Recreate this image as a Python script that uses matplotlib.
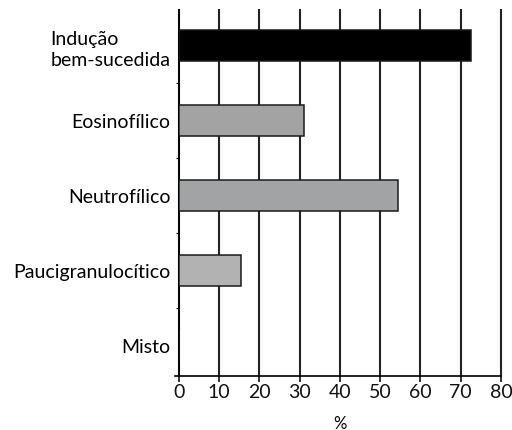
import matplotlib
matplotlib.use("Agg")
import matplotlib.pyplot as plt
import numpy as np

categories = ["Indução\nbem-sucedida", "Eosinofílico", "Neutrofílico",
              "Paucigranulocítico", "Misto"]
values = [72.5, 31, 54.5, 15.5, 0]
bar_colors = ["#000000", "#a3a3a3", "#a2a3a5", "#b1b2b1", "#b1b2b1"]
xticks = [0, 10, 20, 30, 40, 50, 60, 70, 80]

plt.rcParams["font.family"] = ["Lato", "DejaVu Sans"]

fig = plt.figure(figsize=(5.12, 4.31), dpi=100)
ax = fig.add_axes([0.3496, 0.1253, 0.6289, 0.8492])

y = np.arange(len(categories))
ax.barh(y, values, height=0.42, color=bar_colors, edgecolor="#1a1a1a",
        linewidth=1.1, zorder=3)

ax.set_xlim(0, 80)
ax.set_ylim(4.407, -0.473)
ax.set_xticks(xticks)
ax.set_xticklabels([str(t) for t in xticks], fontsize=14)
ax.set_yticks(y)
ax.set_yticklabels(categories, fontsize=14, linespacing=1.3)
for lbl in ax.get_yticklabels():
    lbl.set_multialignment("left")
ax.set_yticks(np.arange(0.5, len(categories) - 1, 1), minor=True)
ax.tick_params(axis="y", which="major", length=0, pad=6)
ax.tick_params(axis="y", which="minor", length=2, width=0.8, direction="out")
ax.tick_params(axis="x", length=4, width=1.2, pad=1, colors="#111111")

ax.xaxis.grid(True, color="#222222", linewidth=1.5, zorder=0)
ax.set_axisbelow(True)
for gl in ax.get_xgridlines():
    gl.set_clip_on(False)

for side in ["top", "right"]:
    ax.spines[side].set_visible(False)
ax.spines["left"].set_linewidth(1.2)
ax.spines["bottom"].set_linewidth(1.2)
ax.spines["bottom"].set_bounds(-1, 80)

ax.set_xlabel("%", fontsize=12, labelpad=11)

fig.savefig("out.png", dpi=100)
